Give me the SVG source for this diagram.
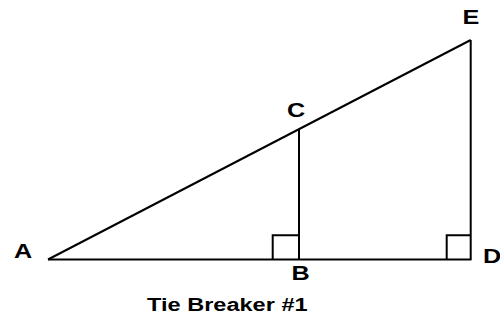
<svg xmlns="http://www.w3.org/2000/svg" width="500" height="320" viewBox="0 0 500 320">
<style>
.ln{stroke:#000;stroke-width:2;fill:none}
.lb{font-family:"Liberation Sans",Arial,sans-serif;font-weight:bold;font-size:21px;fill:#000}
.cap{font-family:"Liberation Sans",Arial,sans-serif;font-weight:bold;font-size:19px;fill:#000}
</style>
<rect width="500" height="320" fill="#fff"/>
<g id="connectors">
<line class="ln" x1="48" y1="259.5" x2="471.5" y2="259.5"/>
<line class="ln" x1="48" y1="259.5" x2="470.7" y2="40"/>
<line class="ln" x1="299" y1="129.2" x2="299" y2="259.5"/>
<line class="ln" x1="470.7" y1="40" x2="470.7" y2="259.5"/>
<polyline class="ln" points="272.7,259.5 272.7,235.3 299,235.3"/>
<polyline class="ln" points="446.7,259.5 446.7,235.3 470.7,235.3"/>
</g>
<g id="A"><text class="lb" transform="translate(14,257.5) scale(1.2,1)">A</text></g>
<g id="B"><text class="lb" transform="translate(291.5,280.3) scale(1.2,1)">B</text></g>
<g id="C"><text class="lb" transform="translate(287,116.8) scale(1.2,1)">C</text></g>
<g id="D"><text class="lb" transform="translate(483,263.3) scale(1.2,1)">D</text></g>
<g id="E"><text class="lb" transform="translate(462.5,24) scale(1.2,1)">E</text></g>
<g id="caption"><text class="cap" transform="translate(147,311) scale(1.24,1)">Tie Breaker #1</text></g>
</svg>
